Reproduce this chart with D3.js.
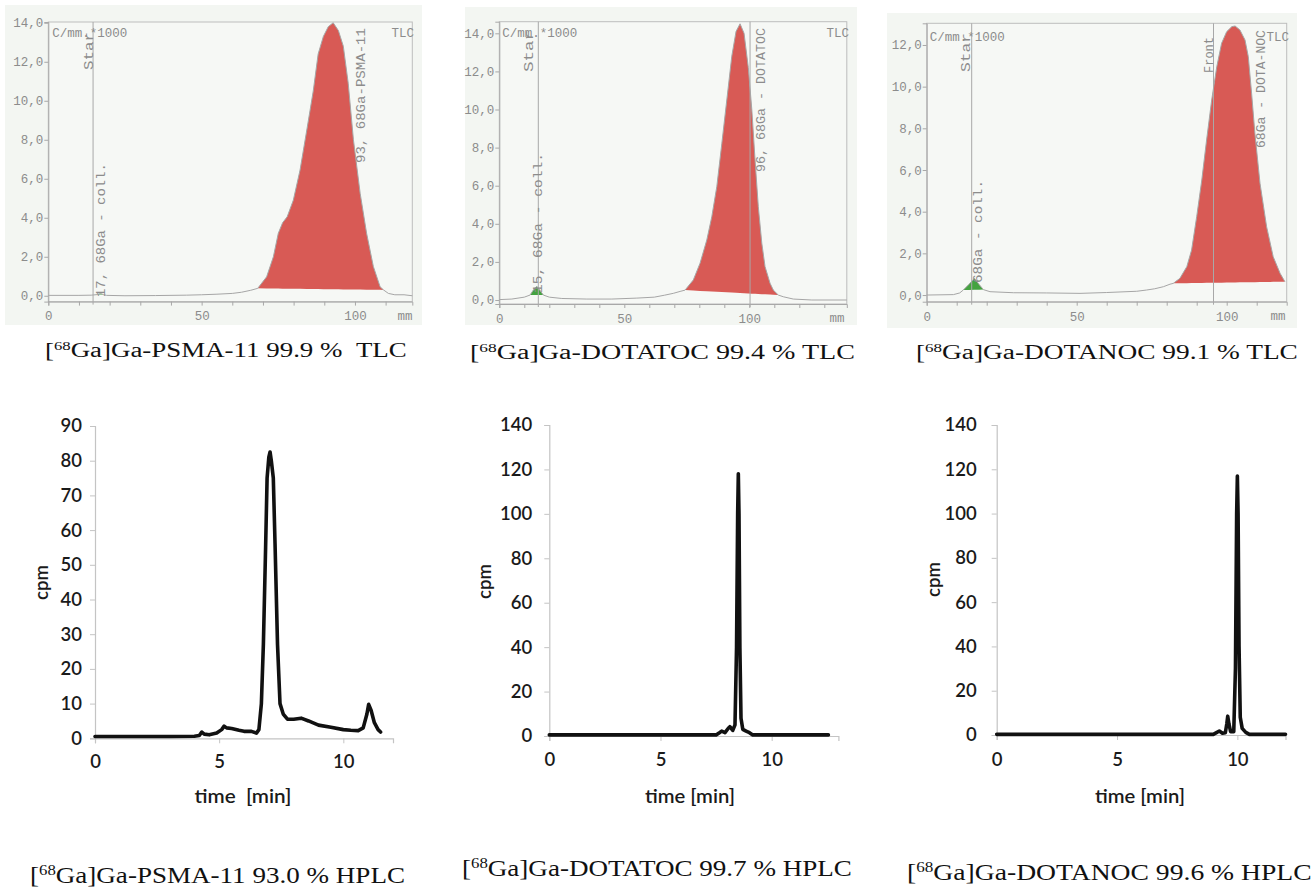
<!DOCTYPE html>
<html><head><meta charset="utf-8">
<script src="https://cdn.jsdelivr.net/npm/d3@7"></script>
<style>body{margin:0;background:#fff}svg{display:block}</style>
</head><body><svg id="c" width="1314" height="891"></svg>
<script>
// ---------------- DATA ----------------
// TLC traces: [position mm, counts C/mm *1000]
const tlcPsmaTrace = [[0,0.02],[10,0.02],[14,0.03],[16,0.06],[17,0.12],[18,0.06],[19,0.02],[25,0.0],[35,0.01],[45,0.03],[50,0.05],[55,0.08],[60,0.12],[63,0.18],[66,0.28],[68.3,0.38],[71.2,0.97],[73.4,2.0],[75.0,3.2],[76.4,3.74],[77.9,4.05],[79.9,4.9],[82.1,6.45],[84.3,8.5],[86.4,10.5],[88.0,12.4],[89.7,13.3],[91.3,13.8],[92.9,14.0],[94.6,13.6],[96.2,12.8],[97.8,10.9],[99.5,8.0],[101.7,5.25],[103.8,3.2],[106.0,1.5],[108.2,0.46],[109.3,0.3],[110.9,0.12],[113,0.05],[116,0.05],[118.7,0.0]];
const tlcPsmaRed = [68.3, 109.3];
const tlcPsmaGreen = [16, 18];

const tlcTocTrace = [[0,0.02],[5,0.05],[10,0.15],[12.3,0.26],[13.5,0.5],[15,0.72],[16.3,0.5],[17.6,0.26],[20,0.15],[25,0.08],[35,0.05],[45,0.05],[55,0.1],[62,0.15],[66,0.25],[69.6,0.35],[72.3,0.45],[74.3,0.52],[77.6,1.05],[80.3,1.93],[83.0,3.15],[85.0,4.37],[87.0,5.95],[89.0,8.2],[91.0,10.5],[93.0,12.8],[94.7,14.1],[96.3,14.5],[97.9,14.0],[99.6,12.2],[101.0,10.0],[102.3,7.35],[103.6,4.9],[105.0,2.98],[106.3,1.75],[108.3,0.88],[109.6,0.52],[111.6,0.26],[113.6,0.17],[117.6,0.05],[125,0.0],[139,0.0]];
const tlcTocRed = [74.3, 111.6];
const tlcTocGreen = [12.3, 17.6];

const tlcNocTrace = [[0,0.0],[8.9,0.02],[11,0.1],[12.2,0.24],[14,0.5],[15.9,0.8],[17.5,0.5],[18.9,0.26],[21.1,0.16],[29,0.11],[40,0.1],[51.1,0.08],[60,0.12],[70,0.18],[73.3,0.24],[76,0.3],[78.9,0.4],[81.1,0.52],[82.2,0.56],[84.4,0.8],[86.7,1.36],[88.3,2.16],[90.0,3.76],[91.7,5.52],[93.3,7.44],[95.0,9.36],[96.7,10.96],[98.3,12.08],[100.0,12.64],[101.7,12.88],[102.8,12.91],[104.4,12.72],[106.1,12.24],[107.2,11.44],[108.3,9.68],[109.4,7.76],[111.1,5.36],[113.3,3.28],[115.5,1.84],[117.8,1.04],[119.4,0.64]];
const tlcNocRed = [82.2, 119.4];
const tlcNocGreen = [12.2, 18.9];

const tlcXTickLabels = [0, 50, 100];
const tlcYTicks14 = [0, 2, 4, 6, 8, 10, 12, 14];
const tlcYTicks12 = [0, 2, 4, 6, 8, 10, 12];

// HPLC traces: [time min, cpm]
const hplcPsma = [[0,0.5],[1,0.5],[2,0.5],[3,0.5],[4,0.6],[4.2,0.8],[4.3,1.8],[4.4,1.2],[4.6,1.0],[4.9,1.5],[5.1,2.5],[5.2,3.5],[5.3,3.0],[5.5,2.8],[5.8,2.3],[6.0,2.0],[6.3,2.0],[6.5,1.5],[6.6,2.5],[6.7,10],[6.78,27],[6.87,55],[6.93,75],[7.0,81],[7.05,82.5],[7.1,80],[7.18,75],[7.25,56],[7.35,27],[7.45,10],[7.58,7],[7.75,5.5],[8.0,5.5],[8.3,5.8],[8.6,5.0],[9.0,3.8],[9.5,3.2],[10.0,2.5],[10.3,2.3],[10.6,2.2],[10.8,3.0],[10.95,7.0],[11.02,9.8],[11.12,8.0],[11.25,4.5],[11.4,2.5],[11.5,1.8]];
const hplcToc = [[0,0.5],[7.5,0.5],[7.65,1.5],[7.75,2.2],[7.9,1.5],[8.05,3.5],[8.12,4.2],[8.25,2.5],[8.35,5],[8.42,40],[8.47,100],[8.5,118],[8.53,100],[8.57,40],[8.62,8],[8.7,3],[8.85,2.2],[9.0,1.5],[9.15,0.5],[12.55,0.5]];
const hplcNoc = [[0,0.3],[9.0,0.3],[9.15,1.2],[9.25,1.8],[9.38,0.8],[9.5,1.0],[9.56,5],[9.6,8.5],[9.65,5],[9.72,1.5],[9.85,1.5],[9.92,30],[9.97,100],[10.0,117],[10.03,100],[10.07,40],[10.12,8],[10.2,3],[10.35,1.2],[10.5,0.3],[12.0,0.3]];
const hplcXTicks = [0, 5, 10];
const hplcYTicks90 = [0,10,20,30,40,50,60,70,80,90];
const hplcYTicks140 = [0,20,40,60,80,100,120,140];

const tlcCaptions = ["Ga]Ga-PSMA-11 99.9 %\u00a0\u00a0TLC","Ga]Ga-DOTATOC 99.4 % TLC","Ga]Ga-DOTANOC 99.1 % TLC"];
const hplcCaptions = ["Ga]Ga-PSMA-11 93.0 % HPLC","Ga]Ga-DOTATOC 99.7 % HPLC","Ga]Ga-DOTANOC 99.6 % HPLC"];

// ---------------- DRAW ----------------
const svg = d3.select("#c");
svg.append("rect").attr("width",1314).attr("height",891).attr("fill","#fff");
const MONO = "'Liberation Mono','DejaVu Sans Mono',monospace";
const TXT = "#8c8c8c";

function rotText(g, str, cx, yBottom, yTop, size) {
  g.append("text")
    .attr("transform", `translate(${cx + size*0.36},${yBottom}) rotate(-90)`)
    .attr("font-family", MONO).attr("font-size", size).attr("fill", TXT)
    .attr("textLength", yBottom - yTop).attr("lengthAdjust", "spacingAndGlyphs")
    .text(str);
}

function tlcPanel(c) {
  const g = svg.append("g");
  g.append("rect").attr("x", c.bg[0]).attr("y", c.bg[1])
    .attr("width", c.bg[2]-c.bg[0]).attr("height", c.bg[3]-c.bg[1]).attr("fill", "#f3f6f2");
  const x = d3.scaleLinear().domain(c.xDomain).range(c.xRange);
  const y = d3.scaleLinear().domain(c.yDomain).range(c.yRange);
  g.append("rect").attr("x", c.xRange[0]).attr("y", c.yRange[1])
    .attr("width", c.xRange[1]-c.xRange[0]).attr("height", c.yRange[0]-c.yRange[1])
    .attr("fill", "#f6f8f5").attr("stroke", "#bdbdbd").attr("stroke-width", 1);

  const ya = g.append("g").attr("transform", `translate(${c.xRange[0]},0)`)
    .call(d3.axisLeft(y).tickValues(c.yTicks).tickSize(4).tickPadding(1)
      .tickFormat(d => d.toFixed(1).replace(".", ",")));
  const minor = d3.range(0, c.xDomain[1], 10);
  const xa = g.append("g").attr("transform", `translate(0,${c.yRange[0]})`)
    .call(d3.axisBottom(x).tickValues(minor).tickSize(4).tickPadding(6)
      .tickFormat(d => tlcXTickLabels.includes(d) ? d : ""));
  [ya, xa].forEach(a => {
    a.select(".domain").attr("stroke", "#a8a8a8");
    a.selectAll(".tick line").attr("stroke", "#a8a8a8");
    a.selectAll("text").attr("font-family", MONO).attr("font-size", 12.5).attr("fill", TXT);
  });
  g.append("text").attr("x", c.mmX).attr("y", c.yRange[0] + 18)
    .attr("text-anchor", "middle").attr("font-family", MONO).attr("font-size", 12.5).attr("fill", TXT).text("mm");

  function peakArea(range, color) {
    const pts = c.trace.filter(p => p[0] >= range[0] - 1e-9 && p[0] <= range[1] + 1e-9);
    const a = pts[0], b = pts[pts.length-1];
    const base = d3.scaleLinear().domain([a[0], b[0]]).range([a[1], b[1]]);
    g.append("path").datum(pts).attr("fill", color)
      .attr("d", d3.area().x(d => x(d[0])).y0(d => y(base(d[0]))).y1(d => y(d[1])));
  }
  peakArea(c.red, "#d85a55");
  peakArea(c.green, "#44a340");

  g.append("path").datum(c.trace).attr("fill", "none").attr("stroke", "#a6a6a6").attr("stroke-width", 1)
    .attr("d", d3.line().x(d => x(d[0])).y(d => y(d[1])));

  c.vlines.forEach(v => {
    g.append("line").attr("x1", x(v)).attr("x2", x(v)).attr("y1", c.yRange[1]).attr("y2", c.yRange[0] + 3)
      .attr("stroke", "#a8a8a8").attr("stroke-width", 1);
  });

  g.append("text").attr("x", c.xRange[0] + c.hdrDx).attr("y", c.hdrY)
    .attr("font-family", MONO).attr("font-size", 12.5).attr("fill", TXT).text("C/mm.*1000");
  g.append("text").attr("x", c.tlcX).attr("y", c.hdrY).attr("text-anchor", "end")
    .attr("font-family", MONO).attr("font-size", 12.5).attr("fill", TXT).text("TLC");
  c.rot.forEach(r => rotText(g, r[0], r[1], r[2], r[3], r[4]));
}

tlcPanel({bg:[5,5,422,325], xDomain:[0,118.7], xRange:[48.3,412.3], yDomain:[-0.3,14.04], yRange:[301.6,22],
  yTicks: tlcYTicks14, trace: tlcPsmaTrace, red: tlcPsmaRed, green: tlcPsmaGreen, vlines:[14.6],
  mmX: 405, hdrDx: 4, hdrY: 37, tlcX: 414,
  rot: [["Star", 88, 70, 32, 12.5], ["17, 68Ga - coll.", 100, 297, 163, 13.5], ["93, 68Ga-PSMA-11", 360, 163, 28, 13.5]]});

tlcPanel({bg:[465,7,857,325], xDomain:[0,139], xRange:[499.3,846.8], yDomain:[-0.21,14.61], yRange:[304,21.7],
  yTicks: tlcYTicks14, trace: tlcTocTrace, red: tlcTocRed, green: tlcTocGreen, vlines:[15.6, 100.3],
  mmX: 837, hdrDx: 3, hdrY: 37, tlcX: 849,
  rot: [["Star", 528, 72, 30, 12.5], ["15, 68Ga - coll.", 537, 293, 153, 13.5], ["96, 68Ga - DOTATOC", 760, 172, 28, 13.5]]});

tlcPanel({bg:[887,13,1297,328], xDomain:[0,120], xRange:[926.7,1286.7], yDomain:[-0.32,13.04], yRange:[301.7,23.3],
  yTicks: tlcYTicks12, trace: tlcNocTrace, red: tlcNocRed, green: tlcNocGreen, vlines:[15, 95.6],
  mmX: 1278, hdrDx: 3, hdrY: 41, tlcX: 1289,
  rot: [["Star", 965, 72, 33, 12.5], ["68Ga - coll.", 977, 283, 180, 13.5], ["Front", 1208, 73, 37, 12.5], ["68Ga - DOTA-NOC", 1260, 148, 30, 13.5]]});

// ---------------- HPLC ----------------
const SANS = "Lato, 'Open Sans', sans-serif";
const INK = "#1a1a1a";
function hplcPanel(c) {
  const g = svg.append("g");
  const x = d3.scaleLinear().domain(c.xDomain).range(c.xRange);
  const y = d3.scaleLinear().domain(c.yDomain).range(c.yRange);
  const xa = g.append("g").attr("transform", `translate(0,${c.yRange[0]})`)
    .call(d3.axisBottom(x).tickValues(hplcXTicks).tickSize(5).tickPadding(c.xPad));
  const ya = g.append("g").attr("transform", `translate(${c.xRange[0]},0)`)
    .call(d3.axisLeft(y).tickValues(c.yTicks).tickSize(5).tickPadding(c.yPad));
  [xa, ya].forEach(a => {
    a.select(".domain").attr("stroke", "#c4c4c4").attr("stroke-width", 1.2);
    a.selectAll(".tick line").attr("stroke", "#c4c4c4");
    a.selectAll("text").attr("font-family", SANS).attr("font-size", 18.5).attr("font-weight", 600).attr("fill", INK);
  });
  g.append("path").datum(c.data).attr("fill", "none").attr("stroke", "#111").attr("stroke-width", 3.6)
    .attr("stroke-linejoin", "round").attr("stroke-linecap", "round")
    .attr("d", d3.line().x(d => x(d[0])).y(d => y(d[1])));
  g.append("text").attr("x", c.xLabel[0] - c.xLabelW/2).attr("y", c.xLabel[1])
    .attr("font-family", SANS).attr("font-size", 19).attr("font-weight", 600).attr("fill", INK)
    .attr("textLength", c.xLabelW).attr("lengthAdjust", "spacingAndGlyphs").text(c.xTitle);
  g.append("text").attr("transform", `translate(${c.yLabel[0]},${c.yLabel[1] + 17}) rotate(-90)`)
    .attr("font-family", SANS).attr("font-size", 19).attr("font-weight", 600).attr("fill", INK)
    .attr("textLength", 35).attr("lengthAdjust", "spacingAndGlyphs").text("cpm");
}

hplcPanel({xDomain:[0,12], xRange:[95,393], yDomain:[0,90], yRange:[738.3,426], yTicks: hplcYTicks90,
  xPad: 12, yPad: 8, data: hplcPsma, xTitle: "time\u00a0\u00a0[min]", xLabel:[243,803], xLabelW: 97, yLabel:[48,583]});
hplcPanel({xDomain:[0,13], xRange:[549.3,838.4], yDomain:[0,140], yRange:[736,425], yTicks: hplcYTicks140,
  xPad: 12, yPad: 12, data: hplcToc, xTitle: "time [min]", xLabel:[690,803], xLabelW: 90, yLabel:[491,582]});
hplcPanel({xDomain:[0,12], xRange:[996.7,1285.5], yDomain:[0,140], yRange:[735,425], yTicks: hplcYTicks140,
  xPad: 13, yPad: 15, data: hplcNoc, xTitle: "time [min]", xLabel:[1140,803], xLabelW: 90, yLabel:[940,580]});

// ---------------- CAPTIONS ----------------
function caption(rest, x0, x1, baseY, size) {
  const t = svg.append("text").attr("x", x0).attr("y", baseY)
    .attr("font-family", "'Liberation Serif','Times New Roman',serif").attr("font-size", size).attr("fill", "#111");
  t.append("tspan").text("[");
  t.append("tspan").attr("font-size", size*0.62).attr("dy", -size*0.36).text("68");
  t.append("tspan").attr("dy", size*0.36).text(rest);
  const w = t.node().getBBox().width;
  const s = (x1 - x0) / w;
  t.attr("transform", `translate(${x0},0) scale(${s},1) translate(${-x0},0)`);
}
caption(tlcCaptions[0], 45, 407, 357, 20);
caption(tlcCaptions[1], 470, 855, 359, 20);
caption(tlcCaptions[2], 916, 1298, 359, 20);
caption(hplcCaptions[0], 30, 405, 883, 23);
caption(hplcCaptions[1], 462, 852, 876, 23);
caption(hplcCaptions[2], 907, 1312, 880, 23);
</script></body></html>
